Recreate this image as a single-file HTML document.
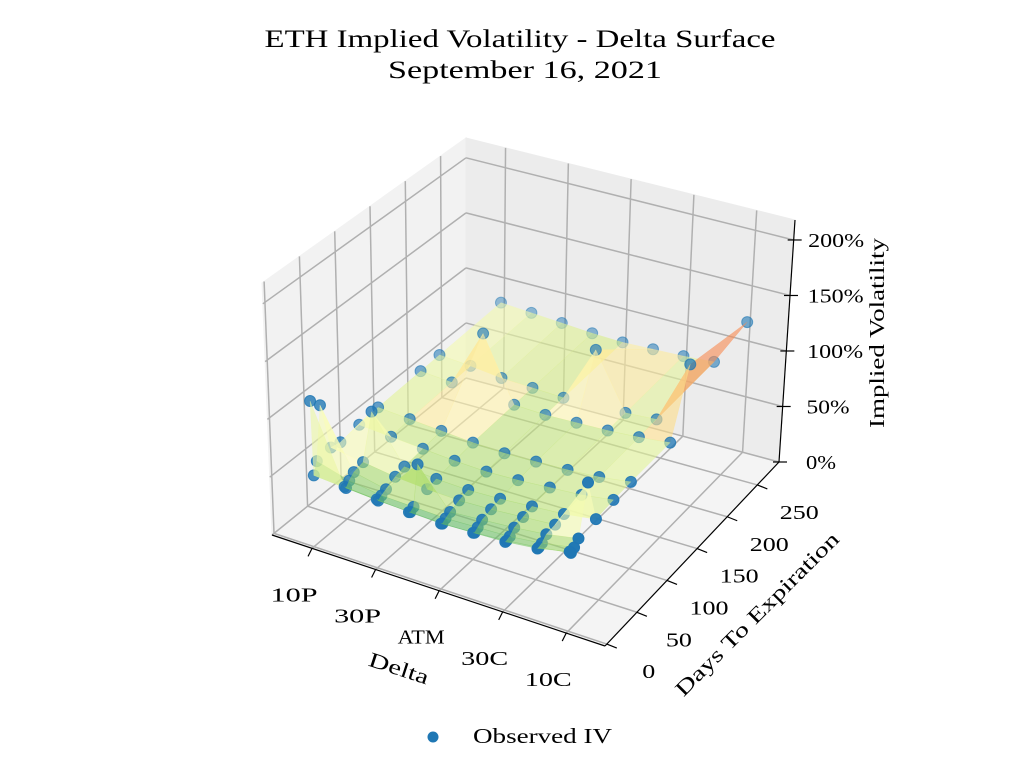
<!DOCTYPE html>
<html><head><meta charset="utf-8"><style>
body{margin:0;background:#fff;width:1024px;height:768px;overflow:hidden}
svg{display:block}
text{font-family:"Liberation Serif","DejaVu Serif",serif;fill:#000}
</style></head><body>
<svg id="chart" width="1024" height="768" viewBox="0 0 1024 768" xmlns="http://www.w3.org/2000/svg">
<text x="520" y="47" font-size="25" text-anchor="middle" textLength="511" lengthAdjust="spacingAndGlyphs">ETH Implied Volatility - Delta Surface</text>
<text x="525" y="78" font-size="25" text-anchor="middle" textLength="274" lengthAdjust="spacingAndGlyphs">September 16, 2021</text>
<g id="panes"></g>
<g id="grid"></g>
<g id="axes"></g>
<g id="plot"></g>
<text x="399" y="675" font-size="21" text-anchor="middle" textLength="62" lengthAdjust="spacingAndGlyphs" transform="rotate(18 398 668)">Delta</text>
<text x="757" y="621" font-size="21" text-anchor="middle" textLength="222" lengthAdjust="spacingAndGlyphs" transform="rotate(-45 757 614)">Days To Expiration</text>
<text x="876" y="341" font-size="21" text-anchor="middle" textLength="190" lengthAdjust="spacingAndGlyphs" transform="rotate(-90 876 333)">Implied Volatility</text>
<g>
<circle cx="433" cy="737" r="5.5" fill="#1f77b4"/>
<text x="473" y="743" font-size="21" textLength="139" lengthAdjust="spacingAndGlyphs">Observed IV</text>
</g>
</svg>
<script>
const deltaLabels = ["10P","30P","ATM","30C","10C"];
const deltaPos = [0,0.5,1,1.5,2,2.5,3,3.5,4];
const days = [1,3,8,15,29,43,71,99,162,190,281];
const ivRows = [
[1.25,0.60,0.58,0.56,0.55,0.56,0.57,0.60,0.66],
[0.60,0.58,0.56,0.55,0.54,0.55,0.57,0.60,0.64],
[0.70,0.62,0.58,0.57,0.56,0.57,0.58,0.61,0.66],
[1.15,0.66,0.60,0.90,0.58,0.60,0.62,0.65,0.70],
[0.72,0.68,0.64,0.62,0.61,0.62,0.64,0.66,1.10],
[0.70,1.05,0.66,0.64,0.63,0.64,0.66,0.68,0.72],
[0.72,0.70,0.68,0.66,0.65,0.66,0.68,0.70,0.74],
[0.74,0.72,0.70,0.68,0.67,0.68,0.69,0.71,0.75],
[0.76,0.74,1.25,0.70,0.69,0.70,0.71,0.73,0.76],
[0.77,0.75,0.72,0.71,0.70,1.20,0.72,0.74,1.30],
[0.80,0.78,0.76,0.74,0.73,0.74,0.75,0.77,1.20]
];
const dayTicks = [0,50,100,150,200,250];
const zTicks = [0,0.5,1,1.5,2];
const zTickLabels = ["0%","50%","100%","150%","200%"];

const XR=[-0.63,4.61], YR=[-3,286], ZR=[0,2.18];
const C={ '000':[272,535],'100':[605,646],'110':[779,462],'010':[466,378],
          '001':[262,283],'101':[610,384],'111':[795,220],'011':[466,138]};
function P(x,y,z){
  const u=(x-XR[0])/(XR[1]-XR[0]), v=(y-YR[0])/(YR[1]-YR[0]), w=(z-ZR[0])/(ZR[1]-ZR[0]);
  let r=[0,0];
  for(const a of [0,1])for(const b of [0,1])for(const c of [0,1]){
    const wt=(a?u:1-u)*(b?v:1-v)*(c?w:1-w); const p=C[''+a+b+c];
    r[0]+=wt*p[0]; r[1]+=wt*p[1];
  }
  return r;
}
const NS="http://www.w3.org/2000/svg";
function mk(tag,attrs,parent){const e=document.createElementNS(NS,tag);for(const k in attrs)e.setAttribute(k,attrs[k]);parent.appendChild(e);return e;}
const pts=a=>a.map(p=>p.join(',')).join(' ');
const panes=document.getElementById('panes'),grid=document.getElementById('grid'),axes=document.getElementById('axes'),plot=document.getElementById('plot');
let e;
e=mk('polygon',{points:pts([C['000'],C['010'],C['011'],C['001']]),fill:'#f2f2f2',stroke:'#f2f2f2'},panes);


e=mk('polygon',{points:pts([C['010'],C['110'],C['111'],C['011']]),fill:'#ececec',stroke:'#ececec'},panes);


e=mk('polygon',{points:pts([C['000'],C['100'],C['110'],C['010']]),fill:'#f4f4f4',stroke:'#f4f4f4'},panes);


function gl(a,b,name){const l=mk('line',{x1:a[0],y1:a[1],x2:b[0],y2:b[1],stroke:'#b0b0b0','stroke-width':1.5},grid);

}
deltaLabels.forEach((_,i)=>{gl(P(i,YR[0],ZR[0]),P(i,YR[1],ZR[0]),'floor-grid-x');gl(P(i,YR[1],ZR[0]),P(i,YR[1],ZR[1]),'back-grid-x');});
dayTicks.forEach(d=>{gl(P(XR[0],d,ZR[0]),P(XR[1],d,ZR[0]),'floor-grid-y');gl(P(XR[0],d,ZR[0]),P(XR[0],d,ZR[1]),'left-grid-y');});
zTicks.forEach(z=>{gl(P(XR[0],YR[0],z),P(XR[0],YR[1],z),'left-grid-z');gl(P(XR[0],YR[1],z),P(XR[1],YR[1],z),'back-grid-z');});
function al(a,b,name){const l=mk('line',{x1:a[0],y1:a[1],x2:b[0],y2:b[1],stroke:'#000','stroke-width':1.2},axes);

}
al(C['000'],C['100'],'x-axis-line');al(C['100'],C['110'],'y-axis-line');al(C['110'],C['111'],'z-axis-line');
function tx(x,y,s,anchor,w,name){const t=mk('text',{x:x,y:y,'font-size':20,'text-anchor':anchor,textLength:w,lengthAdjust:'spacingAndGlyphs'},axes);t.textContent=s;

}
const cw=s=>s.length*13+(s.indexOf('%')>=0?4:0)+(/[A-Z]/.test(s)?3:0);
deltaLabels.forEach((s,i)=>{const p=P(i,YR[0],ZR[0]);al(p,[p[0]-4,p[1]+8],'x-tick');tx(p[0]-18,p[1]+53,s,'middle',cw(s)+5,'x-tick-label');});
dayTicks.forEach(d=>{const p=P(XR[1],d,ZR[0]);al(p,[p[0]+10,p[1]+4],'y-tick');tx(p[0]+42,p[1]+34,String(d),'middle',cw(String(d)),'y-tick-label');});
zTicks.forEach((z,i)=>{const p=P(XR[1],YR[1],z);al([p[0]-6,p[1]],[p[0]+8,p[1]],'z-tick');tx(806+(p[0]-779)*0.15,p[1]+7,zTickLabels[i],'start',cw(zTickLabels[i]),'z-tick-label');});
const cm=['#006837','#1a9850','#66bd63','#a6d96a','#d9ef8b','#ffffbf','#fee08b','#fdae61','#f46d43','#d73027','#a50026'];
function hx(h){return [1,3,5].map(i=>parseInt(h.substr(i,2),16));}
function cmap(t){t=Math.max(0,Math.min(1,t))*(cm.length-1);const i=Math.min(cm.length-2,Math.floor(t)),f=t-i;const a=hx(cm[i]),b=hx(cm[i+1]);return 'rgb('+a.map((v,k)=>Math.round(v+(b[k]-v)*f)).join(',')+')';}
const items=[];
for(let r=0;r<days.length-1;r++)for(let c=0;c<deltaPos.length-1;c++){
  const q=[[c,r],[c+1,r],[c+1,r+1],[c,r+1]].map(([ci,ri])=>P(deltaPos[ci],days[ri],ivRows[ri][ci]));
  const zavg=(ivRows[r][c]+ivRows[r][c+1]+ivRows[r+1][c]+ivRows[r+1][c+1])/4;
  const fl=P((deltaPos[c]+deltaPos[c+1])/2,(days[r]+days[r+1])/2,0);
  items.push({d:fl[1],t:'q',q:q,col:cmap((zavg-0.4)/0.8)});
}
days.forEach((d,ri)=>deltaPos.forEach((x,ci)=>{const p=P(x,d,ivRows[ri][ci]);const fl=P(x,d,0);items.push({d:fl[1]+0.5,t:'p',p:p});}));
items.sort((a,b)=>a.d-b.d);
const dmin=Math.min(...items.map(i=>i.d)),dmax=Math.max(...items.map(i=>i.d));
items.forEach(it=>{
  if(it.t==='q'){const s=mk('polygon',{points:pts(it.q),fill:it.col,'fill-opacity':0.6,stroke:it.col,'stroke-opacity':0.4,'stroke-width':0.5},plot);
    
    }
  else{const a=0.45+0.55*(it.d-dmin)/(dmax-dmin);const s=mk('circle',{cx:it.p[0],cy:it.p[1],r:5.5,fill:'#1f77b4','fill-opacity':a,stroke:'#1f77b4','stroke-opacity':a},plot);
    
    }
});
</script>
</body></html>
